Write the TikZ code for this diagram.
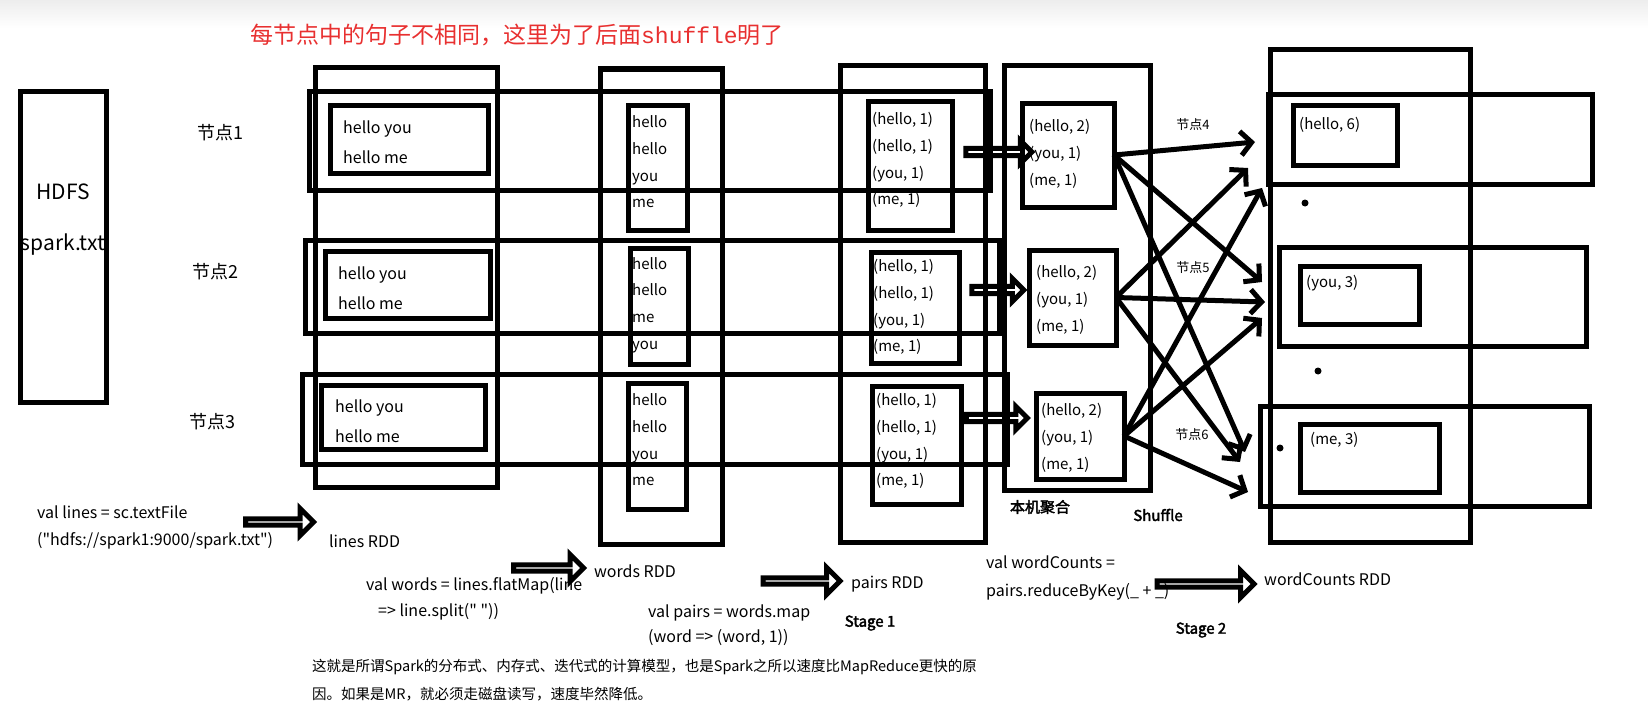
\documentclass[tikz,border=0pt]{standalone}
\usepackage{fontspec}
\setmainfont{Noto Sans CJK SC}
\newfontfamily\codefont{Noto Sans CJK SC}
\newfontfamily\monofont{Liberation Mono}
\newfontfamily\heavyfont[FakeBold=2.5]{Noto Sans CJK SC}
\usetikzlibrary{shapes.arrows,arrows.meta,fit}
\definecolor{notered}{RGB}{232,48,48}

\begin{document}
\begin{tikzpicture}[x=1pt, y=-1pt,
    frame/.style={draw=black, line width=5pt},
    cell/.style={draw=black, line width=5pt, rectangle, inner sep=0pt, outer sep=0pt},
    txt/.style={anchor=west, inner sep=0pt, align=left, font=\fontsize{15}{26.7}\selectfont},
    code/.style={anchor=west, inner sep=0pt, font=\codefont\fontsize{16}{16}\selectfont},
    heavy/.style={inner sep=0pt, font=\heavyfont\fontsize{15}{15}\selectfont},
    hollow/.style={single arrow, draw=black, line width=5pt, inner sep=0pt,
        minimum width=27pt, single arrow head extend=8pt, minimum height=#1},
    smallhollow/.style={hollow=#1, minimum width=23pt, single arrow head extend=5.5pt},
    shuf/.style={line width=5pt, -{Straight Barb[length=11pt, width=24pt]}},
    nodelbl/.style={inner sep=0pt, font=\fontsize{18}{18}\selectfont}
]
\useasboundingbox (0,0) rectangle (1648,725);
\shade[top color=black!7, bottom color=white] (0,0) rectangle (1648,28);

% title
\node[inner sep=0pt, text=notered, font=\fontsize{23}{23}\selectfont] (title) at (517,35)
    {每节点中的句子不相同，这里为了后面{\monofont shuffle}明了};

% HDFS
\node[cell, fit={(20.5,91.5) (106.5,402.5)}] (hdfs) {};
\node[inner sep=0pt, font=\fontsize{21}{21}\selectfont] (hdfsa) at (63,192) {HDFS};
\node[inner sep=0pt, font=\fontsize{21}{21}\selectfont] (hdfsb) at (63,245) {spark.txt};

\node[nodelbl] (n1) at (220,133) {节点1};
\node[nodelbl] (n2) at (215,272) {节点2};
\node[nodelbl] (n3) at (212,422) {节点3};

% columns (RDDs)
\draw[frame] (315.5,67.5) rectangle (497.5,487.5);
\draw[frame] (600,69) rectangle (722,544);
\draw[frame] (840.5,65.5) rectangle (985.5,542.5);
\draw[frame] (1004.5,65.5) rectangle (1150.5,490.5);
\draw[frame] (1270.5,49.5) rectangle (1470.5,542.5);

% rows (nodes)
\draw[frame] (309.5,91.5) rectangle (990.5,190.5);
\draw[frame] (305.5,240.5) rectangle (999.5,333.5);
\draw[frame] (302.5,374.5) rectangle (1007.5,464.5);
\draw[frame] (1268.5,94.5) rectangle (1592.5,184.5);
\draw[frame] (1279.5,247.5) rectangle (1586.5,346.5);
\draw[frame] (1260.5,406.5) rectangle (1589.5,506.5);

% partitions
\node[cell, fit={(330,105) (488,173)}] (ln1) {};
\node[cell, fit={(325,251) (490,318)}] (ln2) {};
\node[cell, fit={(321,385) (485,449)}] (ln3) {};
\node[cell, fit={(628,105) (687,230)}] (wd1) {};
\node[cell, fit={(630,248) (688,364)}] (wd2) {};
\node[cell, fit={(628,383) (686,509)}] (wd3) {};
\node[cell, fit={(868,101) (952,230)}] (pr1) {};
\node[cell, fit={(871,252) (959,363)}] (pr2) {};
\node[cell, fit={(872,386) (961,504)}] (pr3) {};
\node[cell, fit={(1022,103) (1114,207)}] (lc1) {};
\node[cell, fit={(1029,250) (1116,345)}] (lc2) {};
\node[cell, fit={(1036,393) (1124,479)}] (lc3) {};
\node[cell, fit={(1293,105) (1397,165)}] (rs1) {};
\node[cell, fit={(1300,266) (1419,324)}] (rs2) {};
\node[cell, fit={(1300,424) (1439,492)}] (rs3) {};

% contents
\node[txt, font=\fontsize{16}{30}\selectfont] (ln1t) at (343,142) {hello you\\hello me};
\node[txt, font=\fontsize{16}{30}\selectfont] (ln2t) at (338,288) {hello you\\hello me};
\node[txt, font=\fontsize{16}{30}\selectfont] (ln3t) at (335,421) {hello you\\hello me};
\node[txt] (wd1t) at (632,162) {hello\\hello\\you\\me};
\node[txt] (wd2t) at (632,305) {hello\\hello\\me\\you};
\node[txt] (wd3t) at (632,440) {hello\\hello\\you\\me};
\node[txt] (pr1t) at (872,160) {(hello, 1)\\(hello, 1)\\(you, 1)\\(me, 1)};
\node[txt] (pr2t) at (873,307) {(hello, 1)\\(hello, 1)\\(you, 1)\\(me, 1)};
\node[txt] (pr3t) at (876,441) {(hello, 1)\\(hello, 1)\\(you, 1)\\(me, 1)};
\node[txt] (lc1t) at (1029,154) {(hello, 2)\\(you, 1)\\(me, 1)};
\node[txt] (lc2t) at (1036,300) {(hello, 2)\\(you, 1)\\(me, 1)};
\node[txt] (lc3t) at (1041,438) {(hello, 2)\\(you, 1)\\(me, 1)};
\node[txt] (rs1t) at (1299,125) {(hello, 6)};
\node[txt] (rs2t) at (1306,283) {(you, 3)};
\node[txt] (rs3t) at (1310,440) {(me, 3)};

\fill (1305,203) circle (3.5pt);
\fill (1318,371) circle (3.5pt);
\fill (1280,448) circle (3.5pt);

% map side combine
\node[smallhollow=66] (sa1) at (997,152) {};
\node[smallhollow=52] (sa2) at (996,290) {};
\node[smallhollow=61] (sa3) at (995,418) {};

% shuffle
\coordinate (t41) at (1255,142);
\coordinate (t42) at (1248,168);
\coordinate (t43) at (1262,188);
\coordinate (t51) at (1262,282);
\coordinate (t52) at (1265,302);
\coordinate (t53) at (1262,318);
\coordinate (t61) at (1245,452);
\coordinate (t62) at (1240,462);
\coordinate (t63) at (1248,492);
\draw[shuf] (lc1.east) -- (t41);
\draw[shuf] (lc1.east) -- (t51);
\draw[shuf] (lc1.east) -- (t61);
\draw[shuf] (lc2.east) -- (t42);
\draw[shuf] (lc2.east) -- (t52);
\draw[shuf] (lc2.east) -- (t62);
\draw[shuf] (lc3.east) -- (t43);
\draw[shuf] (lc3.east) -- (t53);
\draw[shuf] (lc3.east) -- (t63);
\node[inner sep=0pt, font=\fontsize{13}{13}\selectfont] (n4) at (1193,125) {节点4};
\node[inner sep=0pt, font=\fontsize{13}{13}\selectfont] (n5) at (1193,268) {节点5};
\node[inner sep=0pt, font=\fontsize{13}{13}\selectfont] (n6) at (1192,435) {节点6};

% code and RDD names
\node[code] (c1) at (37,512) {val lines = sc.textFile};
\node[code] (c2) at (37,541) {("hdfs://spark1:9000/spark.txt")};
\node[hollow=68] (ba1) at (278,522) {};
\node[code] (r1) at (329,541) {lines RDD};
\node[code] (c3) at (366,586) {val words = lines.flatMap(line};
\node[code] (c4) at (378,612) {=> line.split(" "))};
\node[hollow=70] (ba2) at (547,568) {};
\node[code] (r2) at (594,571) {words RDD};
\node[hollow=77] (ba3) at (800,581) {};
\node[code] (r3) at (851,584) {pairs RDD};
\node[code] (c5) at (648,613) {val pairs = words.map};
\node[code] (c6) at (648,638) {(word => (word, 1))};
\node[heavy] (st1) at (870,623) {Stage 1};
\node[heavy] (agg) at (1040,507) {本机聚合};
\node[heavy] (shf) at (1158,515) {Shuffle};
\node[code] (c7) at (986,562) {val wordCounts =};
\node[code] (c8) at (986,592) {pairs.reduceByKey(\_ + \_)};
\node[hollow=97] (ba4) at (1204,584) {};
\node[code] (r4) at (1264,579) {wordCounts RDD};
\node[heavy] (st2) at (1201,630) {Stage 2};

\node[anchor=west, inner sep=0pt, align=left, font=\fontsize{14.5}{28}\selectfont] (note) at (312,680)
    {这就是所谓Spark的分布式、内存式、迭代式的计算模型，也是Spark之所以速度比MapReduce更快的原\\
     因。如果是MR，就必须走磁盘读写，速度毕然降低。};
\end{tikzpicture}
\end{document}
